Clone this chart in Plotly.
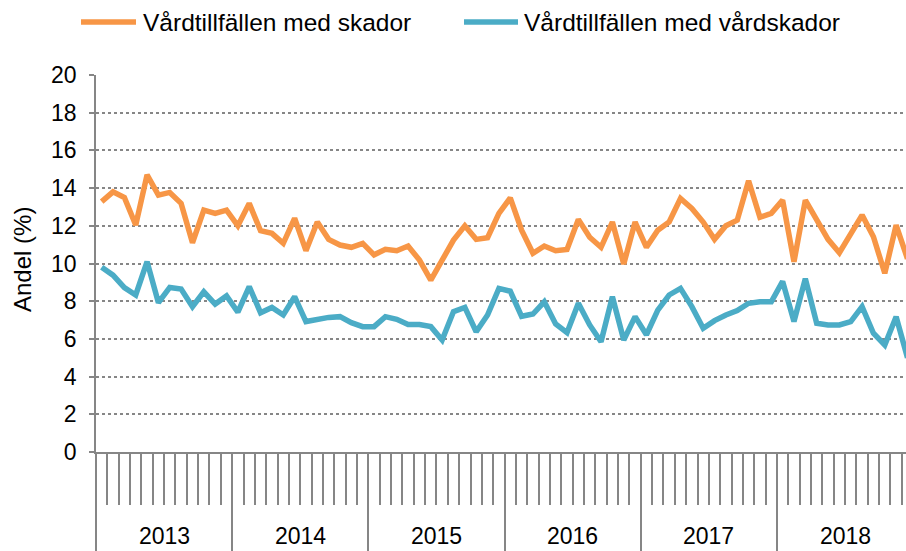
import numpy as np
import plotly.graph_objects as go

years = ["2013", "2014", "2015", "2016", "2017", "2018"]
months_per_year = 12
series_names = ["Vårdtillfällen med skador", "Vårdtillfällen med vårdskador"]

skador = [13.28, 13.8, 13.5, 12.04, 14.7, 13.63, 13.77, 13.19, 11.1, 12.83, 12.66, 12.83,
          12.0, 13.19, 11.74, 11.6, 11.07, 12.4, 10.68, 12.2, 11.28, 10.98, 10.86, 11.07,
          10.46, 10.75, 10.68, 10.93, 10.18, 9.12, 10.18, 11.24, 12.0, 11.28, 11.37, 12.66,
          13.48, 11.77, 10.54, 10.93, 10.68, 10.75, 12.34, 11.39, 10.86, 12.2, 9.97, 12.2,
          10.86, 11.77, 12.2, 13.45, 12.92, 12.2, 11.28, 12.0, 12.3, 14.39, 12.45, 12.66,
          13.36, 10.09, 13.36, 12.3, 11.28, 10.57, 11.6, 12.57, 11.42, 9.48, 12.04, 10.25]

vardskador = [9.8, 9.38, 8.72, 8.33, 10.1, 7.92, 8.73, 8.65, 7.71, 8.5, 7.85, 8.28,
              7.42, 8.77, 7.39, 7.67, 7.27, 8.24, 6.92, 7.04, 7.14, 7.18, 6.86, 6.65,
              6.65, 7.18, 7.04, 6.76, 6.76, 6.65, 5.94, 7.45, 7.67, 6.38, 7.27, 8.68,
              8.53, 7.2, 7.32, 7.97, 6.79, 6.33, 7.89, 6.74, 5.85, 8.24, 5.94, 7.18,
              6.22, 7.53, 8.33, 8.68, 7.71, 6.56, 6.97, 7.27, 7.5, 7.89, 7.97, 7.97,
              9.05, 6.92, 9.2, 6.83, 6.74, 6.74, 6.92, 7.71, 6.3, 5.68, 7.18, 5.0]

y_ticks = [0, 2, 4, 6, 8, 10, 12, 14, 16, 18, 20]

n = len(skador)
x = np.arange(n) + 0.5
year_bounds = [i * months_per_year for i in range(len(years))]
month_bounds = [i for i in range(1, n) if i % months_per_year != 0]
year_centers = [b + months_per_year / 2 for b in year_bounds]

ORANGE = "#F79646"
BLUE = "#4BACC6"
GREY = "#868686"
FONT = "Liberation Sans, Arial, sans-serif"
FS = 23

W, H = 906, 551
ML, MR, MT, MB = 96, 0, 75, 99
PW, PH = W - ML - MR, H - MT - MB


def px_x(p):
    return (p - ML) / PW


def px_y(p):
    return (H - MB - p) / PH


fig = go.Figure()
fig.add_trace(go.Scatter(x=x, y=skador, mode="lines", name=series_names[0],
                         line=dict(color=ORANGE, width=5.5), showlegend=False))
fig.add_trace(go.Scatter(x=x, y=vardskador, mode="lines", name=series_names[1],
                         line=dict(color=BLUE, width=5.5), showlegend=False))

# legend (drawn manually to get long line samples)
legend_items = [(81, 136, 141, series_names[0], ORANGE),
                (464, 518, 522, series_names[1], BLUE)]
for x0, x1, tx, name, col in legend_items:
    fig.add_shape(type="line", xref="paper", yref="paper",
                  x0=px_x(x0), x1=px_x(x1), y0=px_y(22), y1=px_y(22),
                  line=dict(color=col, width=5.5))
    fig.add_annotation(xref="paper", yref="paper", x=px_x(tx), y=px_y(23),
                       xanchor="left", yanchor="middle", text=name, showarrow=False,
                       font=dict(size=24.5, family=FONT, color="black"))

for yc, lab in zip(year_centers, years):
    fig.add_annotation(x=yc, y=px_y(536), xref="x", yref="paper", text=lab, showarrow=False,
                       font=dict(size=FS, color="black", family=FONT), yanchor="middle")

fig.add_annotation(xref="paper", yref="paper", x=px_x(22), y=px_y(260), text="Andel (%)",
                   textangle=-90, showarrow=False, xanchor="center", yanchor="middle",
                   font=dict(size=24, family=FONT, color="black"))

fig.update_layout(
    width=W, height=H,
    margin=dict(l=ML, r=MR, t=MT, b=MB, autoexpand=False),
    paper_bgcolor="white", plot_bgcolor="white",
    font=dict(family=FONT, color="black"),
    showlegend=False,
    xaxis=dict(range=[0, 71.37], showgrid=False, zeroline=False, automargin=False,
               showline=True, linecolor=GREY, linewidth=1.5,
               tickmode="array", tickvals=year_bounds, ticks="outside",
               ticklen=99, tickwidth=1.5, tickcolor=GREY, showticklabels=False,
               minor=dict(tickmode="array", tickvals=month_bounds, ticks="outside",
                          ticklen=51, tickwidth=1.5, tickcolor=GREY, showgrid=False)),
    yaxis=dict(range=[0, 20], tickmode="array", tickvals=y_ticks, automargin=False,
               showgrid=True, gridcolor=GREY, griddash="dot", gridwidth=1.5,
               zeroline=False, showline=True, linecolor=GREY, linewidth=1.5,
               ticks="outside", ticklen=5, tickwidth=1.5, tickcolor=GREY,
               ticklabelstandoff=8,
               tickfont=dict(size=FS, family=FONT, color="black")),
)

fig.write_html("out.html", config={"displayModeBar": False},
               post_script="document.body.style.margin='0px';")
